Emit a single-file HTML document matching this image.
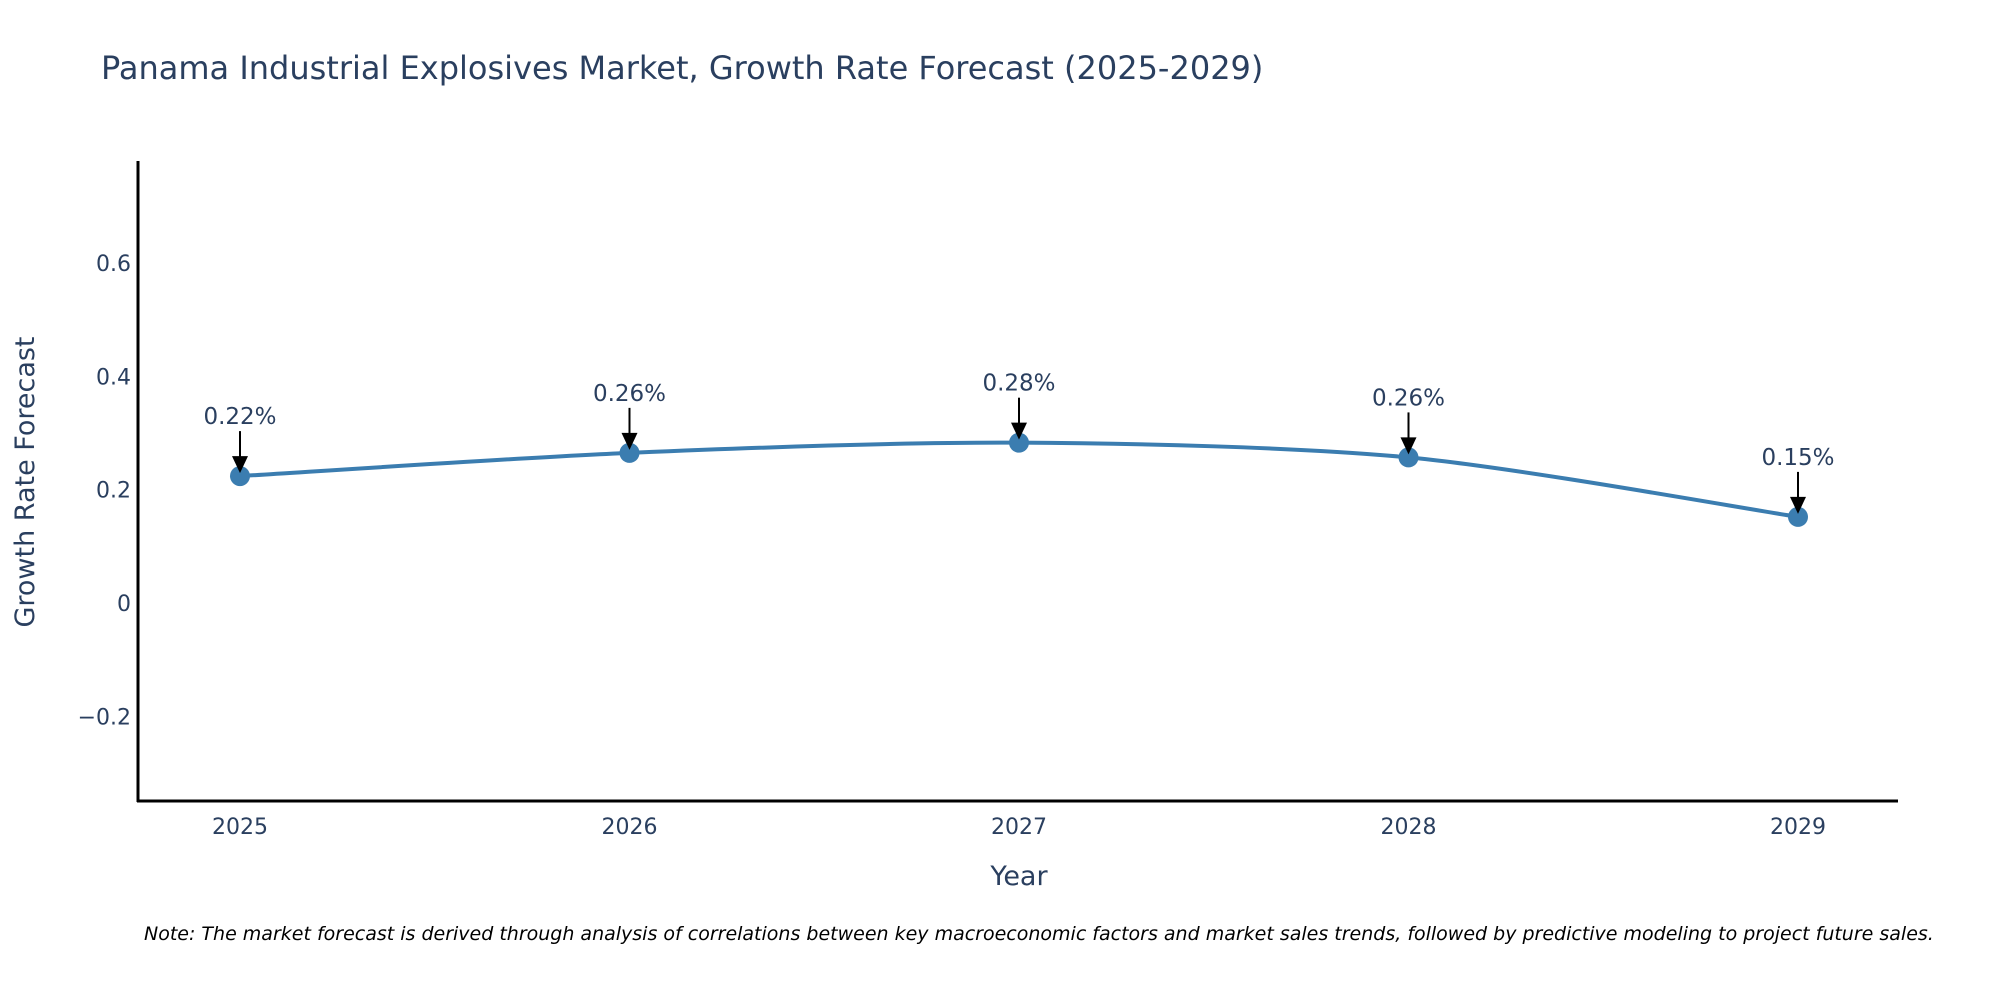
<!DOCTYPE html>
<html><head><meta charset="utf-8"><style>
html,body{margin:0;padding:0;background:#fff;}
svg{display:block;font-family:"DejaVu Sans","Liberation Sans",sans-serif;}
</style></head><body>
<svg id="chart" width="2000" height="1000" viewBox="0 0 2000 1000" xmlns="http://www.w3.org/2000/svg">
<rect width="2000" height="1000" fill="#fff"/>
<text x="101" y="79" font-size="32" fill="#2a3f5f">Panama Industrial Explosives Market, Growth Rate Forecast (2025-2029)</text>
<g id="yticks"></g>
<g id="xticks"></g>
<line x1="138" y1="161" x2="138" y2="802" stroke="#000" stroke-width="3"/>
<line x1="137" y1="801" x2="1898" y2="801" stroke="#000" stroke-width="3"/>
<path id="series" fill="none" stroke="#3b7db0" stroke-width="4"/>
<g id="marks"></g>
<text x="1019" y="885" font-size="27" fill="#2a3f5f" text-anchor="middle">Year</text>
<text transform="translate(34,482) rotate(-90)" font-size="27" fill="#2a3f5f" text-anchor="middle">Growth Rate Forecast</text>
<text x="144" y="940" font-size="19" font-style="italic" fill="#000">Note: The market forecast is derived through analysis of correlations between key macroeconomic factors and market sales trends, followed by predictive modeling to project future sales.</text>
</svg>
<script>
const years = [2025, 2026, 2027, 2028, 2029];
const growth = [0.224, 0.265, 0.283, 0.257, 0.152];
const labels = ["0.22%", "0.26%", "0.28%", "0.26%", "0.15%"];
const yTickVals = [-0.2, 0, 0.2, 0.4, 0.6];
const yTickText = ["\u22120.2", "0", "0.2", "0.4", "0.6"];

const NS = "http://www.w3.org/2000/svg";
function xScale(v){ return 240 + (v - 2025) * 389.5; }
function yScale(v){ return 603 - v * 566.5; }
function mk(tag, attrs){ const e = document.createElementNS(NS, tag); for (const k in attrs) e.setAttribute(k, attrs[k]); return e; }

const yt = document.getElementById('yticks');
yTickVals.forEach((v, i) => {
  const t = mk('text', {x: 131, y: yScale(v) + 8, 'font-size': 22, fill: '#2a3f5f', 'text-anchor': 'end'});
  
  
  t.textContent = yTickText[i];
  yt.appendChild(t);
});
const xt = document.getElementById('xticks');
years.forEach(y => {
  const t = mk('text', {x: xScale(y), y: 834, 'font-size': 22, fill: '#2a3f5f', 'text-anchor': 'middle'});
  
  
  t.textContent = String(y);
  xt.appendChild(t);
});

const pts = years.map((y, i) => [xScale(y), yScale(growth[i])]);
let d = `M${pts[0][0]},${pts[0][1]}`;
for (let i = 0; i < pts.length - 1; i++) {
  const p0 = pts[i - 1] || pts[i], p1 = pts[i], p2 = pts[i + 1], p3 = pts[i + 2] || p2;
  const s = 7;
  d += ` C${p1[0] + (p2[0] - p0[0]) / s},${p1[1] + (p2[1] - p0[1]) / s} ${p2[0] - (p3[0] - p1[0]) / s},${p2[1] - (p3[1] - p1[1]) / s} ${p2[0]},${p2[1]}`;
}
document.getElementById('series').setAttribute('d', d);

const marks = document.getElementById('marks');
pts.forEach((p, i) => {
  const c = mk('circle', {cx: p[0], cy: p[1], r: 10, fill: '#3b7db0'});
  
  
  marks.appendChild(c);
  const l = mk('line', {x1: p[0], y1: p[1] - 45, x2: p[0], y2: p[1] - 16, stroke: '#000', 'stroke-width': 2});
  
  
  marks.appendChild(l);
  const h = mk('polygon', {points: `${p[0]-8},${p[1]-20} ${p[0]+8},${p[1]-20} ${p[0]},${p[1]-3}`, fill: '#000'});
  
  
  marks.appendChild(h);
  const t = mk('text', {x: p[0], y: p[1] - 52, 'font-size': 23, fill: '#2a3f5f', 'text-anchor': 'middle'});
  
  
  t.textContent = labels[i];
  marks.appendChild(t);
});
</script>
</body></html>
